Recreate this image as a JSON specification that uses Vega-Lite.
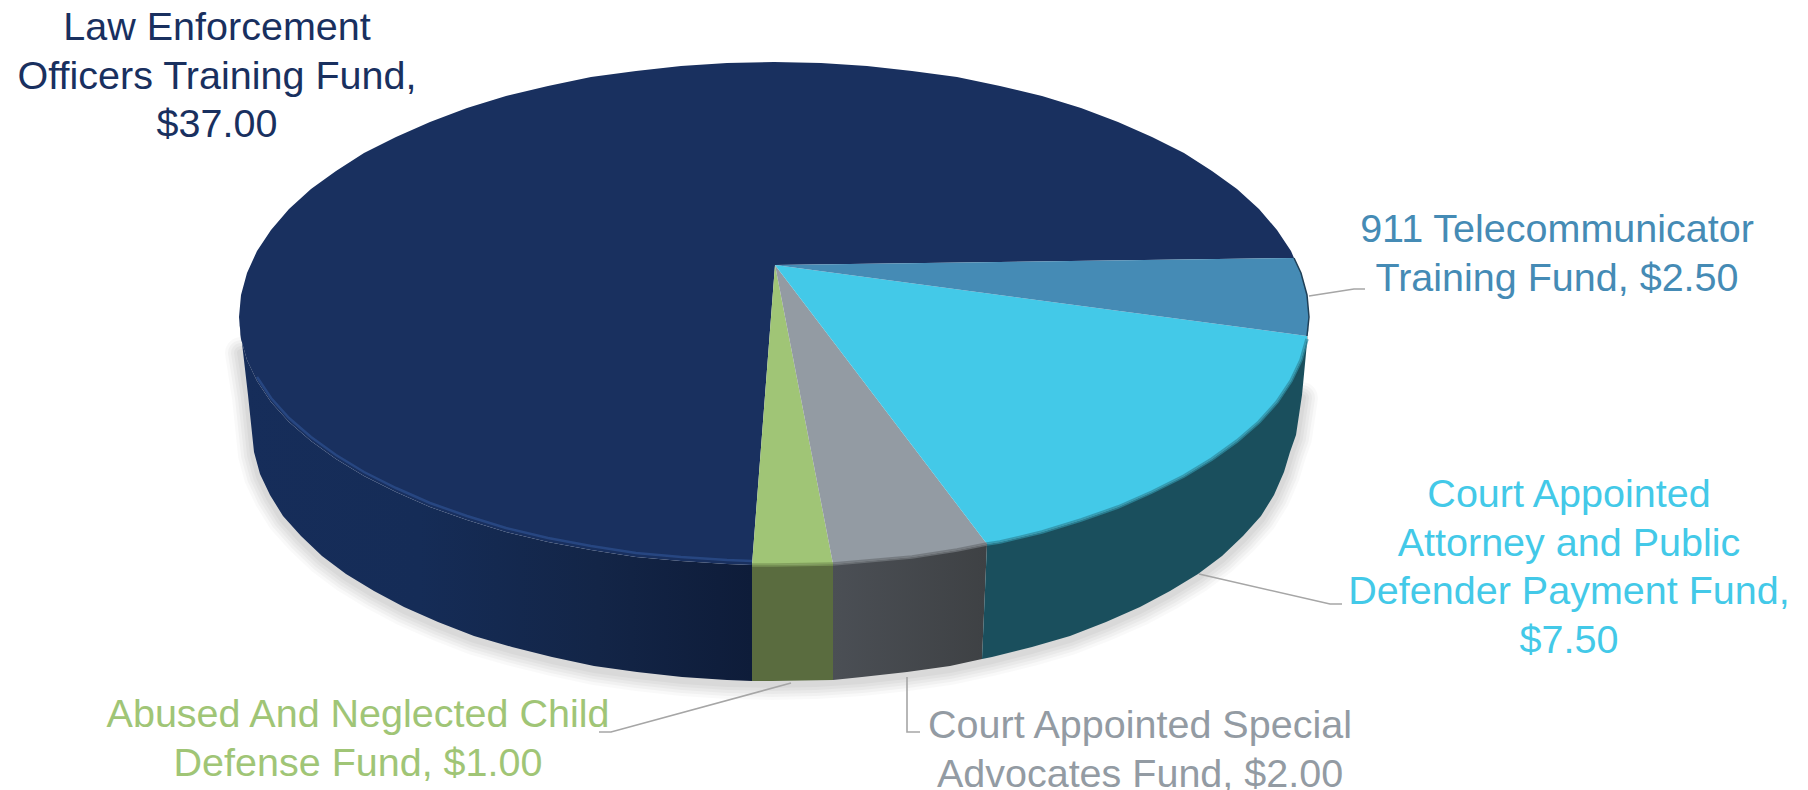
{"$schema":"https://vega.github.io/schema/vega-lite/v6.json","width":1808,"height":790,"padding":0,"autosize":"none","background":"white","config":{"view":{"stroke":null}},
"datasets":{
"funds":[
{"fund":"Law","amount":37.0,"label":"Law Enforcement\nOfficers Training Fund,\n$37.00","x":217,"y":40},
{"fund":"911","amount":2.5,"label":"911 Telecommunicator\nTraining Fund, $2.50","x":1557,"y":242},
{"fund":"Attorney","amount":7.5,"label":"Court Appointed\nAttorney and Public\nDefender Payment Fund,\n$7.50","x":1569,"y":507},
{"fund":"Advocates","amount":2.0,"label":"Court Appointed Special\nAdvocates Fund, $2.00","x":1140,"y":738},
{"fund":"Child","amount":1.0,"label":"Abused And Neglected Child\nDefense Fund, $1.00","x":358,"y":727}],
"leaders":[
{"fund":"911","i":1,"x":1309,"y":296},{"fund":"911","i":2,"x":1354,"y":289},{"fund":"911","i":3,"x":1365,"y":289},
{"fund":"Attorney","i":1,"x":1199,"y":574},{"fund":"Attorney","i":2,"x":1330,"y":604},{"fund":"Attorney","i":3,"x":1342,"y":604},
{"fund":"Advocates","i":1,"x":907,"y":677},{"fund":"Advocates","i":2,"x":907,"y":732},{"fund":"Advocates","i":3,"x":920,"y":732},
{"fund":"Child","i":1,"x":791,"y":683},{"fund":"Child","i":2,"x":611,"y":732},{"fund":"Child","i":3,"x":599,"y":732}],
"top":[
{"fund":"Law","i":0,"x":775,"y":265},{"fund":"Law","i":1,"x":1294,"y":258},{"fund":"Law","i":2,"x":1291,"y":251},{"fund":"Law","i":3,"x":1277,"y":230},{"fund":"Law","i":4,"x":1259,"y":209},{"fund":"Law","i":5,"x":1237,"y":189},{"fund":"Law","i":6,"x":1212,"y":171},{"fund":"Law","i":7,"x":1184,"y":153},{"fund":"Law","i":8,"x":1152,"y":137},{"fund":"Law","i":9,"x":1118,"y":122},{"fund":"Law","i":10,"x":1081,"y":108},{"fund":"Law","i":11,"x":1042,"y":96},{"fund":"Law","i":12,"x":1000,"y":86},{"fund":"Law","i":13,"x":957,"y":77},{"fund":"Law","i":14,"x":912,"y":71},{"fund":"Law","i":15,"x":867,"y":66},{"fund":"Law","i":16,"x":821,"y":63},{"fund":"Law","i":17,"x":774,"y":62},{"fund":"Law","i":18,"x":727,"y":63},{"fund":"Law","i":19,"x":681,"y":66},{"fund":"Law","i":20,"x":636,"y":71},{"fund":"Law","i":21,"x":591,"y":77},{"fund":"Law","i":22,"x":548,"y":86},{"fund":"Law","i":23,"x":506,"y":96},{"fund":"Law","i":24,"x":467,"y":108},{"fund":"Law","i":25,"x":430,"y":122},{"fund":"Law","i":26,"x":396,"y":137},{"fund":"Law","i":27,"x":364,"y":153},{"fund":"Law","i":28,"x":336,"y":171},{"fund":"Law","i":29,"x":311,"y":189},{"fund":"Law","i":30,"x":289,"y":209},{"fund":"Law","i":31,"x":271,"y":230},{"fund":"Law","i":32,"x":257,"y":251},{"fund":"Law","i":33,"x":247,"y":273},{"fund":"Law","i":34,"x":241,"y":295},{"fund":"Law","i":35,"x":239,"y":317},{"fund":"Law","i":36,"x":241,"y":339},{"fund":"Law","i":37,"x":247,"y":360},{"fund":"Law","i":38,"x":257,"y":381},{"fund":"Law","i":39,"x":271,"y":402},{"fund":"Law","i":40,"x":289,"y":422},{"fund":"Law","i":41,"x":311,"y":441},{"fund":"Law","i":42,"x":336,"y":459},{"fund":"Law","i":43,"x":364,"y":476},{"fund":"Law","i":44,"x":396,"y":492},{"fund":"Law","i":45,"x":430,"y":507},{"fund":"Law","i":46,"x":467,"y":520},{"fund":"Law","i":47,"x":506,"y":532},{"fund":"Law","i":48,"x":548,"y":542},{"fund":"Law","i":49,"x":591,"y":550},{"fund":"Law","i":50,"x":636,"y":557},{"fund":"Law","i":51,"x":681,"y":561},{"fund":"Law","i":52,"x":727,"y":564},{"fund":"Law","i":53,"x":752,"y":565},
{"fund":"Child","i":0,"x":775,"y":265},{"fund":"Child","i":1,"x":752,"y":565},{"fund":"Child","i":2,"x":774,"y":565},{"fund":"Child","i":3,"x":821,"y":564},{"fund":"Child","i":4,"x":833,"y":564},
{"fund":"Advocates","i":0,"x":775,"y":265},{"fund":"Advocates","i":1,"x":833,"y":564},{"fund":"Advocates","i":2,"x":867,"y":561},{"fund":"Advocates","i":3,"x":912,"y":557},{"fund":"Advocates","i":4,"x":957,"y":550},{"fund":"Advocates","i":5,"x":987,"y":544},
{"fund":"Attorney","i":0,"x":775,"y":265},{"fund":"Attorney","i":1,"x":987,"y":544},{"fund":"Attorney","i":2,"x":1000,"y":542},{"fund":"Attorney","i":3,"x":1042,"y":532},{"fund":"Attorney","i":4,"x":1081,"y":520},{"fund":"Attorney","i":5,"x":1118,"y":507},{"fund":"Attorney","i":6,"x":1152,"y":492},{"fund":"Attorney","i":7,"x":1184,"y":476},{"fund":"Attorney","i":8,"x":1212,"y":459},{"fund":"Attorney","i":9,"x":1237,"y":441},{"fund":"Attorney","i":10,"x":1259,"y":422},{"fund":"Attorney","i":11,"x":1277,"y":402},{"fund":"Attorney","i":12,"x":1291,"y":381},{"fund":"Attorney","i":13,"x":1301,"y":360},{"fund":"Attorney","i":14,"x":1307,"y":339},{"fund":"Attorney","i":15,"x":1307,"y":336},
{"fund":"911","i":0,"x":775,"y":265},{"fund":"911","i":1,"x":1307,"y":336},{"fund":"911","i":2,"x":1309,"y":317},{"fund":"911","i":3,"x":1307,"y":295},{"fund":"911","i":4,"x":1301,"y":273},{"fund":"911","i":5,"x":1294,"y":258}],
"sideLaw":[
{"i":0,"x":239,"y":317},{"i":1,"x":241,"y":339},{"i":2,"x":247,"y":360},{"i":3,"x":257,"y":381},{"i":4,"x":271,"y":402},{"i":5,"x":289,"y":422},{"i":6,"x":311,"y":441},{"i":7,"x":336,"y":459},{"i":8,"x":364,"y":476},{"i":9,"x":396,"y":492},{"i":10,"x":430,"y":507},{"i":11,"x":467,"y":520},{"i":12,"x":506,"y":532},{"i":13,"x":548,"y":542},{"i":14,"x":591,"y":550},{"i":15,"x":636,"y":557},{"i":16,"x":681,"y":561},{"i":17,"x":727,"y":564},{"i":18,"x":752,"y":565},{"i":19,"x":752,"y":681},{"i":20,"x":727,"y":680},{"i":21,"x":682,"y":677},{"i":22,"x":637,"y":672},{"i":23,"x":594,"y":666},{"i":24,"x":552,"y":657},{"i":25,"x":512,"y":647},{"i":26,"x":474,"y":636},{"i":27,"x":438,"y":622},{"i":28,"x":404,"y":607},{"i":29,"x":374,"y":591},{"i":30,"x":346,"y":574},{"i":31,"x":322,"y":556},{"i":32,"x":301,"y":536},{"i":33,"x":283,"y":516},{"i":34,"x":270,"y":495},{"i":35,"x":260,"y":474},{"i":36,"x":254,"y":452},{"i":37,"x":248,"y":395}],
"sideChild":[{"i":0,"x":752,"y":565},{"i":1,"x":774,"y":565},{"i":2,"x":833,"y":564},{"i":3,"x":833,"y":680},{"i":4,"x":772,"y":681},{"i":5,"x":752,"y":681}],
"sideAdvocates":[{"i":0,"x":833,"y":564},{"i":1,"x":867,"y":561},{"i":2,"x":912,"y":557},{"i":3,"x":957,"y":550},{"i":4,"x":987,"y":544},{"i":5,"x":982,"y":659},{"i":6,"x":950,"y":666},{"i":7,"x":907,"y":672},{"i":8,"x":862,"y":677},{"i":9,"x":833,"y":680}],
"sideAttorney":[{"i":0,"x":987,"y":544},{"i":1,"x":1000,"y":542},{"i":2,"x":1042,"y":532},{"i":3,"x":1081,"y":520},{"i":4,"x":1118,"y":507},{"i":5,"x":1152,"y":492},{"i":6,"x":1184,"y":476},{"i":7,"x":1212,"y":459},{"i":8,"x":1237,"y":441},{"i":9,"x":1259,"y":422},{"i":10,"x":1277,"y":402},{"i":11,"x":1291,"y":381},{"i":12,"x":1301,"y":360},{"i":13,"x":1307,"y":339},{"i":14,"x":1309,"y":322},{"i":15,"x":1302,"y":395},{"i":16,"x":1296,"y":435},{"i":17,"x":1290,"y":452},{"i":18,"x":1284,"y":472},{"i":19,"x":1274,"y":495},{"i":20,"x":1261,"y":516},{"i":21,"x":1243,"y":536},{"i":22,"x":1222,"y":556},{"i":23,"x":1198,"y":574},{"i":24,"x":1170,"y":591},{"i":25,"x":1140,"y":607},{"i":26,"x":1106,"y":622},{"i":27,"x":1070,"y":636},{"i":28,"x":1032,"y":647},{"i":29,"x":992,"y":657},{"i":30,"x":982,"y":659}],
"silhouette":[{"i":0,"x":241,"y":350},{"i":1,"x":248,"y":395},{"i":2,"x":254,"y":452},{"i":3,"x":260,"y":474},{"i":4,"x":270,"y":495},{"i":5,"x":283,"y":516},{"i":6,"x":301,"y":536},{"i":7,"x":322,"y":556},{"i":8,"x":346,"y":574},{"i":9,"x":374,"y":591},{"i":10,"x":404,"y":607},{"i":11,"x":438,"y":622},{"i":12,"x":474,"y":636},{"i":13,"x":512,"y":647},{"i":14,"x":552,"y":657},{"i":15,"x":594,"y":666},{"i":16,"x":637,"y":672},{"i":17,"x":682,"y":677},{"i":18,"x":727,"y":680},{"i":19,"x":772,"y":681},{"i":20,"x":817,"y":680},{"i":21,"x":862,"y":677},{"i":22,"x":907,"y":672},{"i":23,"x":950,"y":666},{"i":24,"x":992,"y":657},{"i":25,"x":1032,"y":647},{"i":26,"x":1070,"y":636},{"i":27,"x":1106,"y":622},{"i":28,"x":1140,"y":607},{"i":29,"x":1170,"y":591},{"i":30,"x":1198,"y":574},{"i":31,"x":1222,"y":556},{"i":32,"x":1243,"y":536},{"i":33,"x":1261,"y":516},{"i":34,"x":1274,"y":495},{"i":35,"x":1284,"y":472},{"i":36,"x":1290,"y":452},{"i":37,"x":1296,"y":435},{"i":38,"x":1302,"y":395}],
"rim":[{"i":0,"x":257,"y":381},{"i":1,"x":271,"y":402},{"i":2,"x":289,"y":422},{"i":3,"x":311,"y":441},{"i":4,"x":336,"y":459},{"i":5,"x":364,"y":476},{"i":6,"x":396,"y":492},{"i":7,"x":430,"y":507},{"i":8,"x":467,"y":520},{"i":9,"x":506,"y":532},{"i":10,"x":548,"y":542},{"i":11,"x":591,"y":550},{"i":12,"x":636,"y":557},{"i":13,"x":681,"y":561},{"i":14,"x":727,"y":564},{"i":15,"x":752,"y":565}],
"edge":[{"i":0,"x":1294,"y":258},{"i":1,"x":1301,"y":273},{"i":2,"x":1307,"y":295},{"i":3,"x":1309,"y":317},{"i":4,"x":1307,"y":336}]
},
"encoding":{
"x":{"field":"x","type":"quantitative","scale":{"domain":[0,1808],"nice":false,"zero":false},"axis":null},
"y":{"field":"y","type":"quantitative","scale":{"domain":[0,790],"nice":false,"zero":false,"reverse":true},"axis":null},
"order":{"field":"i","type":"quantitative"}
},
"layer":[
{"data":{"name":"silhouette"},"mark":{"type":"line","stroke":"#000","strokeWidth":32,"opacity":0.025,"yOffset":3,"strokeCap":"round"}},
{"data":{"name":"silhouette"},"mark":{"type":"line","stroke":"#000","strokeWidth":26,"opacity":0.03,"yOffset":3,"strokeCap":"round"}},
{"data":{"name":"silhouette"},"mark":{"type":"line","stroke":"#000","strokeWidth":20,"opacity":0.03,"yOffset":3,"strokeCap":"round"}},
{"data":{"name":"silhouette"},"mark":{"type":"line","stroke":"#000","strokeWidth":14,"opacity":0.03,"yOffset":3,"strokeCap":"round"}},
{"data":{"name":"silhouette"},"mark":{"type":"line","stroke":"#000","strokeWidth":8,"opacity":0.03,"yOffset":3,"strokeCap":"round"}},
{"data":{"name":"sideLaw"},"mark":{"type":"line","filled":true,"strokeWidth":0,"fill":{"gradient":"linear","x1":0,"y1":0,"x2":1,"y2":0,"stops":[{"offset":0,"color":"#162d5a"},{"offset":0.35,"color":"#152c57"},{"offset":0.7,"color":"#132547"},{"offset":1,"color":"#0e1c39"}]}}},
{"data":{"name":"sideChild"},"mark":{"type":"line","filled":true,"strokeWidth":0,"fill":"#5a6c3f"}},
{"data":{"name":"sideAdvocates"},"mark":{"type":"line","filled":true,"strokeWidth":0,"fill":{"gradient":"linear","x1":0,"y1":0,"x2":1,"y2":0,"stops":[{"offset":0,"color":"#4b4f55"},{"offset":1,"color":"#3e4144"}]}}},
{"data":{"name":"sideAttorney"},"mark":{"type":"line","filled":true,"strokeWidth":0,"fill":"#1a4f5d"}},
{"data":{"name":"top"},"mark":{"type":"line","filled":true,"strokeWidth":0},"encoding":{"color":{"field":"fund","type":"nominal","legend":null,"scale":{"domain":["Law","911","Attorney","Advocates","Child"],"range":["#19305f","#458bb5","#43c9e8","#939ba3","#a0c576"]}}}},
{"data":{"name":"rim"},"mark":{"type":"line","stroke":"#2b4c8a","strokeWidth":2.5,"opacity":0.8,"yOffset":-4}},
{"data":{"name":"sideAttorney"},"transform":[{"filter":"datum.i <= 13"}],"mark":{"type":"line","stroke":"#2f8ea3","strokeWidth":3.5,"opacity":0.75}},
{"data":{"name":"sideAdvocates"},"transform":[{"filter":"datum.i <= 4"}],"mark":{"type":"line","stroke":"#6f7479","strokeWidth":3.5,"opacity":0.8}},
{"data":{"name":"sideChild"},"transform":[{"filter":"datum.i <= 2"}],"mark":{"type":"line","stroke":"#7d9a5a","strokeWidth":3.5,"opacity":0.8}},
{"data":{"name":"edge"},"mark":{"type":"line","stroke":"#1f3f56","strokeWidth":1.5}},
{"data":{"name":"leaders"},"mark":{"type":"line","strokeWidth":1.6,"stroke":"#a6a6a6"},"encoding":{"detail":{"field":"fund"},"color":{"value":"#a6a6a6"}}},
{"data":{"name":"funds"},"mark":{"type":"text","font":"Liberation Sans","fontSize":39.5,"align":"center","baseline":"alphabetic","lineBreak":"\n","lineHeight":48.5},"encoding":{"order":null,"text":{"field":"label"},"color":{"field":"fund","type":"nominal","legend":null}}}
]}
